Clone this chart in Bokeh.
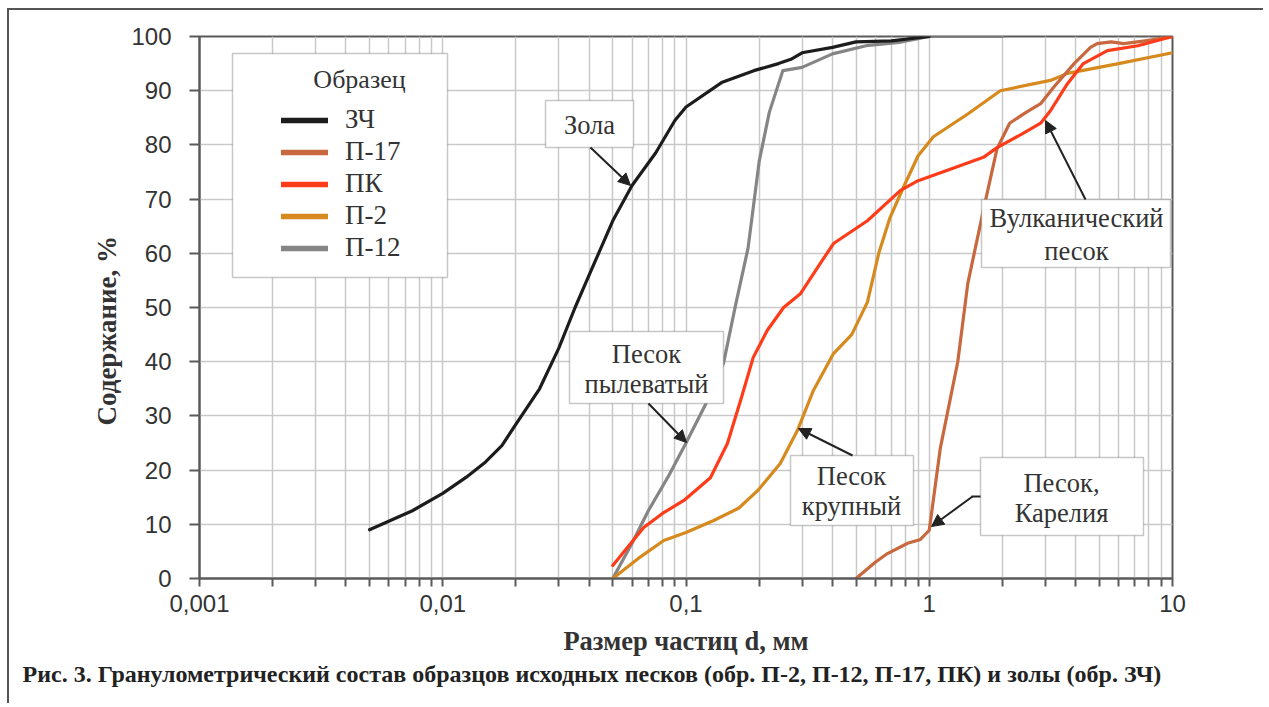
import math
from bokeh.plotting import figure
from bokeh.models import (FixedTicker, Legend, LegendItem, Label, BoxAnnotation,
                          Arrow, NormalHead, Range1d, Title)
from bokeh.embed import file_html
from bokeh.resources import INLINE

# ---------------- data ----------------
zc_x = [0.005, 0.0075, 0.01, 0.0125, 0.015, 0.0175, 0.02, 0.025, 0.03, 0.035, 0.04, 0.05,
        0.06, 0.075, 0.09, 0.1, 0.14, 0.19, 0.24, 0.27, 0.3, 0.4, 0.5, 0.7, 1.0]
zc_y = [9, 12.5, 15.7, 18.7, 21.5, 24.5, 28.5, 35, 42.5, 50, 56, 66,
        72.5, 78.5, 84.5, 87, 91.5, 93.7, 95, 95.8, 97, 98, 99, 99.2, 100]

p17_x = [0.5, 0.6, 0.673, 0.815, 0.92, 1.0, 1.11, 1.31, 1.44, 1.67, 1.9, 2.14, 2.5, 2.87,
         3.24, 3.94, 4.6, 4.9, 5.6, 6.3, 8.0, 10]
p17_y = [0, 3, 4.6, 6.5, 7.2, 8.9, 24, 40, 54.4, 68, 79.3, 84, 86, 87.6,
         90.6, 95, 98, 98.7, 99, 98.7, 99.3, 100]

pk_x = [0.05, 0.067, 0.08, 0.098, 0.126, 0.148, 0.1675, 0.189, 0.216, 0.252, 0.296, 0.35,
        0.404, 0.557, 0.762, 0.9, 1.22, 1.67, 1.9, 2.4, 2.87, 3.15, 3.7, 4.3, 5.4, 7.2, 10]
pk_y = [2.4, 9.4, 12, 14.4, 18.6, 24.9, 32.8, 40.8, 45.8, 50, 52.6, 57.6,
        61.8, 66, 71.6, 73.4, 75.5, 77.7, 79.5, 82, 84, 86.3, 91.3, 95, 97.4, 98.3, 100]

p2_x = [0.05, 0.065, 0.081, 0.1, 0.13, 0.165, 0.197, 0.244, 0.287, 0.334, 0.404, 0.48,
        0.557, 0.62, 0.69, 0.78, 0.9, 1.04, 1.44, 1.96, 3.15, 3.7, 6.0, 10]
p2_y = [0, 4, 7, 8.5, 10.7, 13, 16.2, 21.2, 27.3, 34.7, 41.5, 45,
        51, 60, 66.6, 72, 78, 81.5, 85.7, 90, 91.9, 93.2, 95, 97]

p12_x = [0.05, 0.06, 0.07, 0.085, 0.1, 0.12, 0.1426, 0.16, 0.18, 0.2, 0.22, 0.25, 0.3,
         0.4, 0.55, 0.75, 1.0, 2.0]
p12_y = [0, 6.5, 12.5, 19, 25, 32, 39.7, 50.5, 61, 77, 86, 93.7, 94.3,
         96.8, 98.3, 98.9, 100, 100]

series_names = ["ЗЧ", "П-17", "ПК", "П-2", "П-12"]
series_colors = ["#1c1c1c", "#c8683e", "#ff3c1a", "#d68a1e", "#858585"]

x_major = [0.001, 0.01, 0.1, 1, 10]
x_labels = ["0,001", "0,01", "0,1", "1", "10"]
y_ticks = [0, 10, 20, 30, 40, 50, 60, 70, 80, 90, 100]

caption = "Рис. 3. Гранулометрический состав образцов исходных песков (обр. П-2, П-12, П-17, ПК) и золы (обр. ЗЧ)"

# ---------------- layout helpers (page px -> frame screen coords) ----------------
FL, FB = 199, 578


def sx(px):
    return px - FL


def sy(py):
    return FB - py


SERIF = "Liberation Serif"
SANS = "Liberation Sans"

p = figure(width=1256, height=695, x_axis_type="log",
           x_range=Range1d(0.001, 10), y_range=Range1d(0, 100),
           output_backend="svg", toolbar_location=None,
           min_border_left=190, min_border_right=93, min_border_top=26,
           min_border_bottom=127)
p.styles = {"margin-left": "7px", "margin-top": "8px",
            "border-left": "2px solid #555", "border-top": "2px solid #555"}
p.background_fill_color = "white"
p.border_fill_color = "white"
p.outline_line_color = "#5a5a5a"
p.outline_line_width = 2

minor = []
for d in [0.001, 0.01, 0.1, 1]:
    for k in range(2, 10):
        minor.append(round(d * k, 6))

p.xaxis.ticker = FixedTicker(ticks=x_major, minor_ticks=minor)
p.xaxis.major_label_overrides = {t: l for t, l in zip(x_major, x_labels)}
p.yaxis.ticker = FixedTicker(ticks=y_ticks, minor_ticks=[])

for ax in (p.xaxis, p.yaxis):
    ax.axis_line_color = "#5a5a5a"
    ax.axis_line_width = 2
    ax.major_tick_line_color = "#5a5a5a"
    ax.major_tick_line_width = 2
    ax.minor_tick_line_color = "#5a5a5a"
    ax.minor_tick_line_width = 2
    ax.major_label_text_font = SANS
    ax.major_label_text_font_size = "24px"
    ax.major_label_text_color = "#333333"
    ax.major_tick_in = 0
    ax.minor_tick_in = 0
    ax.axis_label_text_font = SERIF
    ax.axis_label_text_font_style = "bold"
    ax.axis_label_text_color = "#333333"

p.xaxis.major_tick_out = 8
p.xaxis.minor_tick_out = 8
p.xaxis.major_label_standoff = 8
p.xaxis.axis_label = "Размер частиц d, мм"
p.xaxis.axis_label_text_font_size = "26.5px"
p.xaxis.axis_label_standoff = 11
p.yaxis.major_tick_out = 10
p.yaxis.minor_tick_out = 0
p.yaxis.major_label_standoff = 18

p.xgrid.grid_line_color = "#c9c9c9"
p.xgrid.grid_line_width = 1.5
p.xgrid.minor_grid_line_color = "#c9c9c9"
p.xgrid.minor_grid_line_width = 1.5
p.ygrid.grid_line_color = "#c9c9c9"
p.ygrid.grid_line_width = 1.5

xs = [zc_x, p17_x, pk_x, p2_x, p12_x]
ys = [zc_y, p17_y, pk_y, p2_y, p12_y]
for i in [4, 3, 1, 2, 0]:
    p.line(xs[i], ys[i], line_color=series_colors[i], line_width=3.2,
           line_join="round", line_cap="round")

# hidden copies with thicker strokes, used only as legend swatches
leg_r = {}
for i in range(5):
    leg_r[i] = p.line(xs[i], ys[i], line_color=series_colors[i], line_width=5.5,
                      line_cap="round", visible=False)

# ---------------- y axis title (left panel, shifted down like the original) ----------------
p.add_layout(Title(text="Содержание, %", align="left", offset=153, standoff=13,
                   text_font=SERIF, text_font_style="bold", text_font_size="27px",
                   text_color="#333333"), "left")

# ---------------- legend ----------------
p.add_layout(BoxAnnotation(left=sx(232), right=sx(447), top=sy(53), bottom=sy(277),
                           left_units="screen", right_units="screen",
                           top_units="screen", bottom_units="screen",
                           fill_color="white", fill_alpha=1,
                           line_color="#444444", line_width=1.5))
legend = Legend(items=[LegendItem(label=series_names[i], renderers=[leg_r[i]]) for i in range(5)],
                location=(sx(281), sy(263)), border_line_color=None,
                background_fill_alpha=0, padding=0, margin=0,
                glyph_width=47, glyph_height=20, label_height=20,
                label_standoff=17, spacing=1,
                inactive_fill_alpha=0,
                label_text_font=SERIF, label_text_font_size="27px",
                label_text_color="#333333")
p.add_layout(legend, "center")
p.add_layout(Label(x=sx(359), y=sy(79), x_units="screen", y_units="screen",
                   text="Образец", text_font=SERIF, text_font_size="26px",
                   text_color="#333333", text_align="center", text_baseline="middle"))

# ---------------- annotation boxes ----------------
boxes = [
    ((545, 633, 100, 147), [("Зола", 589, 124)]),
    ((569, 723, 331, 403), [("Песок", 646, 353), ("пылеватый", 646, 383)]),
    ((790, 913, 455, 525), [("Песок", 851, 475), ("крупный", 851, 505)]),
    ((980, 1143, 457, 535), [("Песок,", 1061, 482), ("Карелия", 1061, 512)]),
    ((981, 1170, 199, 267), [("Вулканический", 1076, 217), ("песок", 1076, 250)]),
]
for (l, r, t, b), texts in boxes:
    p.add_layout(BoxAnnotation(left=sx(l), right=sx(r), top=sy(t), bottom=sy(b),
                               left_units="screen", right_units="screen",
                               top_units="screen", bottom_units="screen",
                               fill_color="white", fill_alpha=1,
                               line_color="#444444", line_width=1.5))
    for txt, cx, cy in texts:
        p.add_layout(Label(x=sx(cx), y=sy(cy), x_units="screen", y_units="screen",
                           text=txt, text_font=SERIF, text_font_size="26.5px",
                           text_color="#333333", text_align="center",
                           text_baseline="middle"))

arrows = [
    (590, 147, 630, 185),
    (648, 403, 686, 442),
    (852, 455, 798, 428),
    (972, 496, 931, 526),
    (1085, 199, 1045, 120),
]
for x0, y0, x1, y1 in arrows:
    p.add_layout(Arrow(x_start=sx(x0), y_start=sy(y0), x_end=sx(x1), y_end=sy(y1),
                       start_units="screen", end_units="screen",
                       line_color="#222222", line_width=2,
                       end=NormalHead(size=12, fill_color="#222222", line_color="#222222")))
p.add_layout(Arrow(x_start=sx(980), y_start=sy(496), x_end=sx(971), y_end=sy(496),
                   start_units="screen", end_units="screen",
                   line_color="#222222", line_width=2, end=None))

# ---------------- caption ----------------
p.add_layout(Title(text=caption, align="left", offset=-177, standoff=0,
                   text_font=SERIF, text_font_style="bold", text_font_size="24px",
                   text_color="#222222"), "below")

open("out.html", "w").write(file_html(p, INLINE))
